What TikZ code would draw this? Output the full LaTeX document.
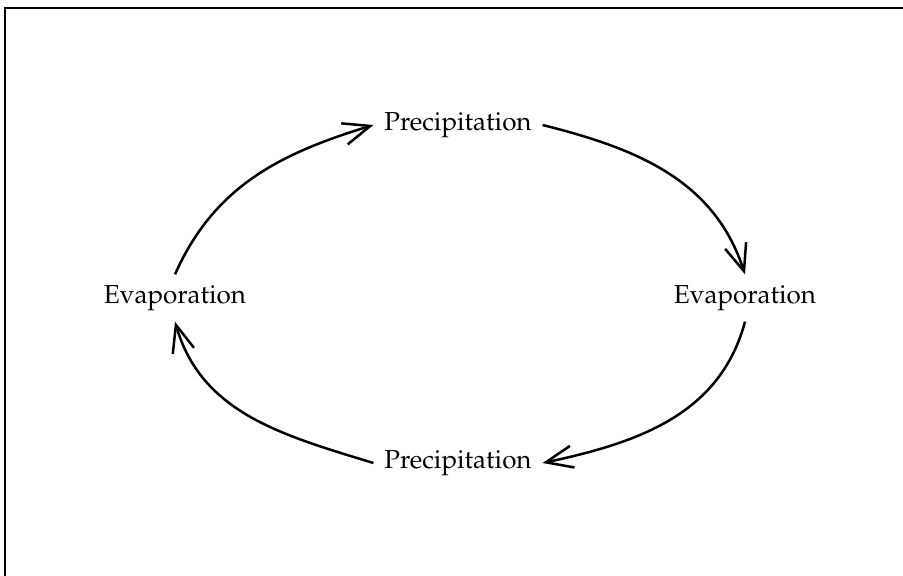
\documentclass[tikz,border=0pt]{standalone}
\usepackage[T1]{fontenc}
\usepackage{mathpazo}
\usepackage{tikz}
\usetikzlibrary{arrows.meta, positioning}
\tikzset{
  % Testo delle fasi
  phase/.style={inner sep=0pt, outer sep=11pt, font=\fontsize{26}{30}\selectfont},
  % Frecce del ciclo
  cycle arrow/.style={-{Straight Barb[length=27pt,width=22pt,line width=2.5pt]}, line width=2.5pt, black},
  frame/.style={line width=1.6pt, black}
}
\begin{document}
\begin{tikzpicture}[x=1pt, y=1pt]
    \useasboundingbox (0,0) rectangle (903,-576);
    \draw[frame] (903,-8) -- (5,-8) -- (5,-576);
    \node[phase] (Prec1) at (458,-125) {Precipitation};
    \node[phase] (Evap1) at (175,-298) {Evaporation};
    \node[phase] (Evap2) at (745,-298) {Evaporation};
    \node[phase] (Prec2) at (458,-463) {Precipitation};
    \draw[cycle arrow] (Evap1.north) to[out=66, in=197] (Prec1.west);
    \draw[cycle arrow] (Prec1.east)  to[out=-14, in=108] (Evap2.north);
    \draw[cycle arrow] (Evap2.south) to[out=-105, in=12] (Prec2.east);
    \draw[cycle arrow] (Prec2.west)  to[out=163, in=-74] (Evap1.south);
\end{tikzpicture}
\end{document}
